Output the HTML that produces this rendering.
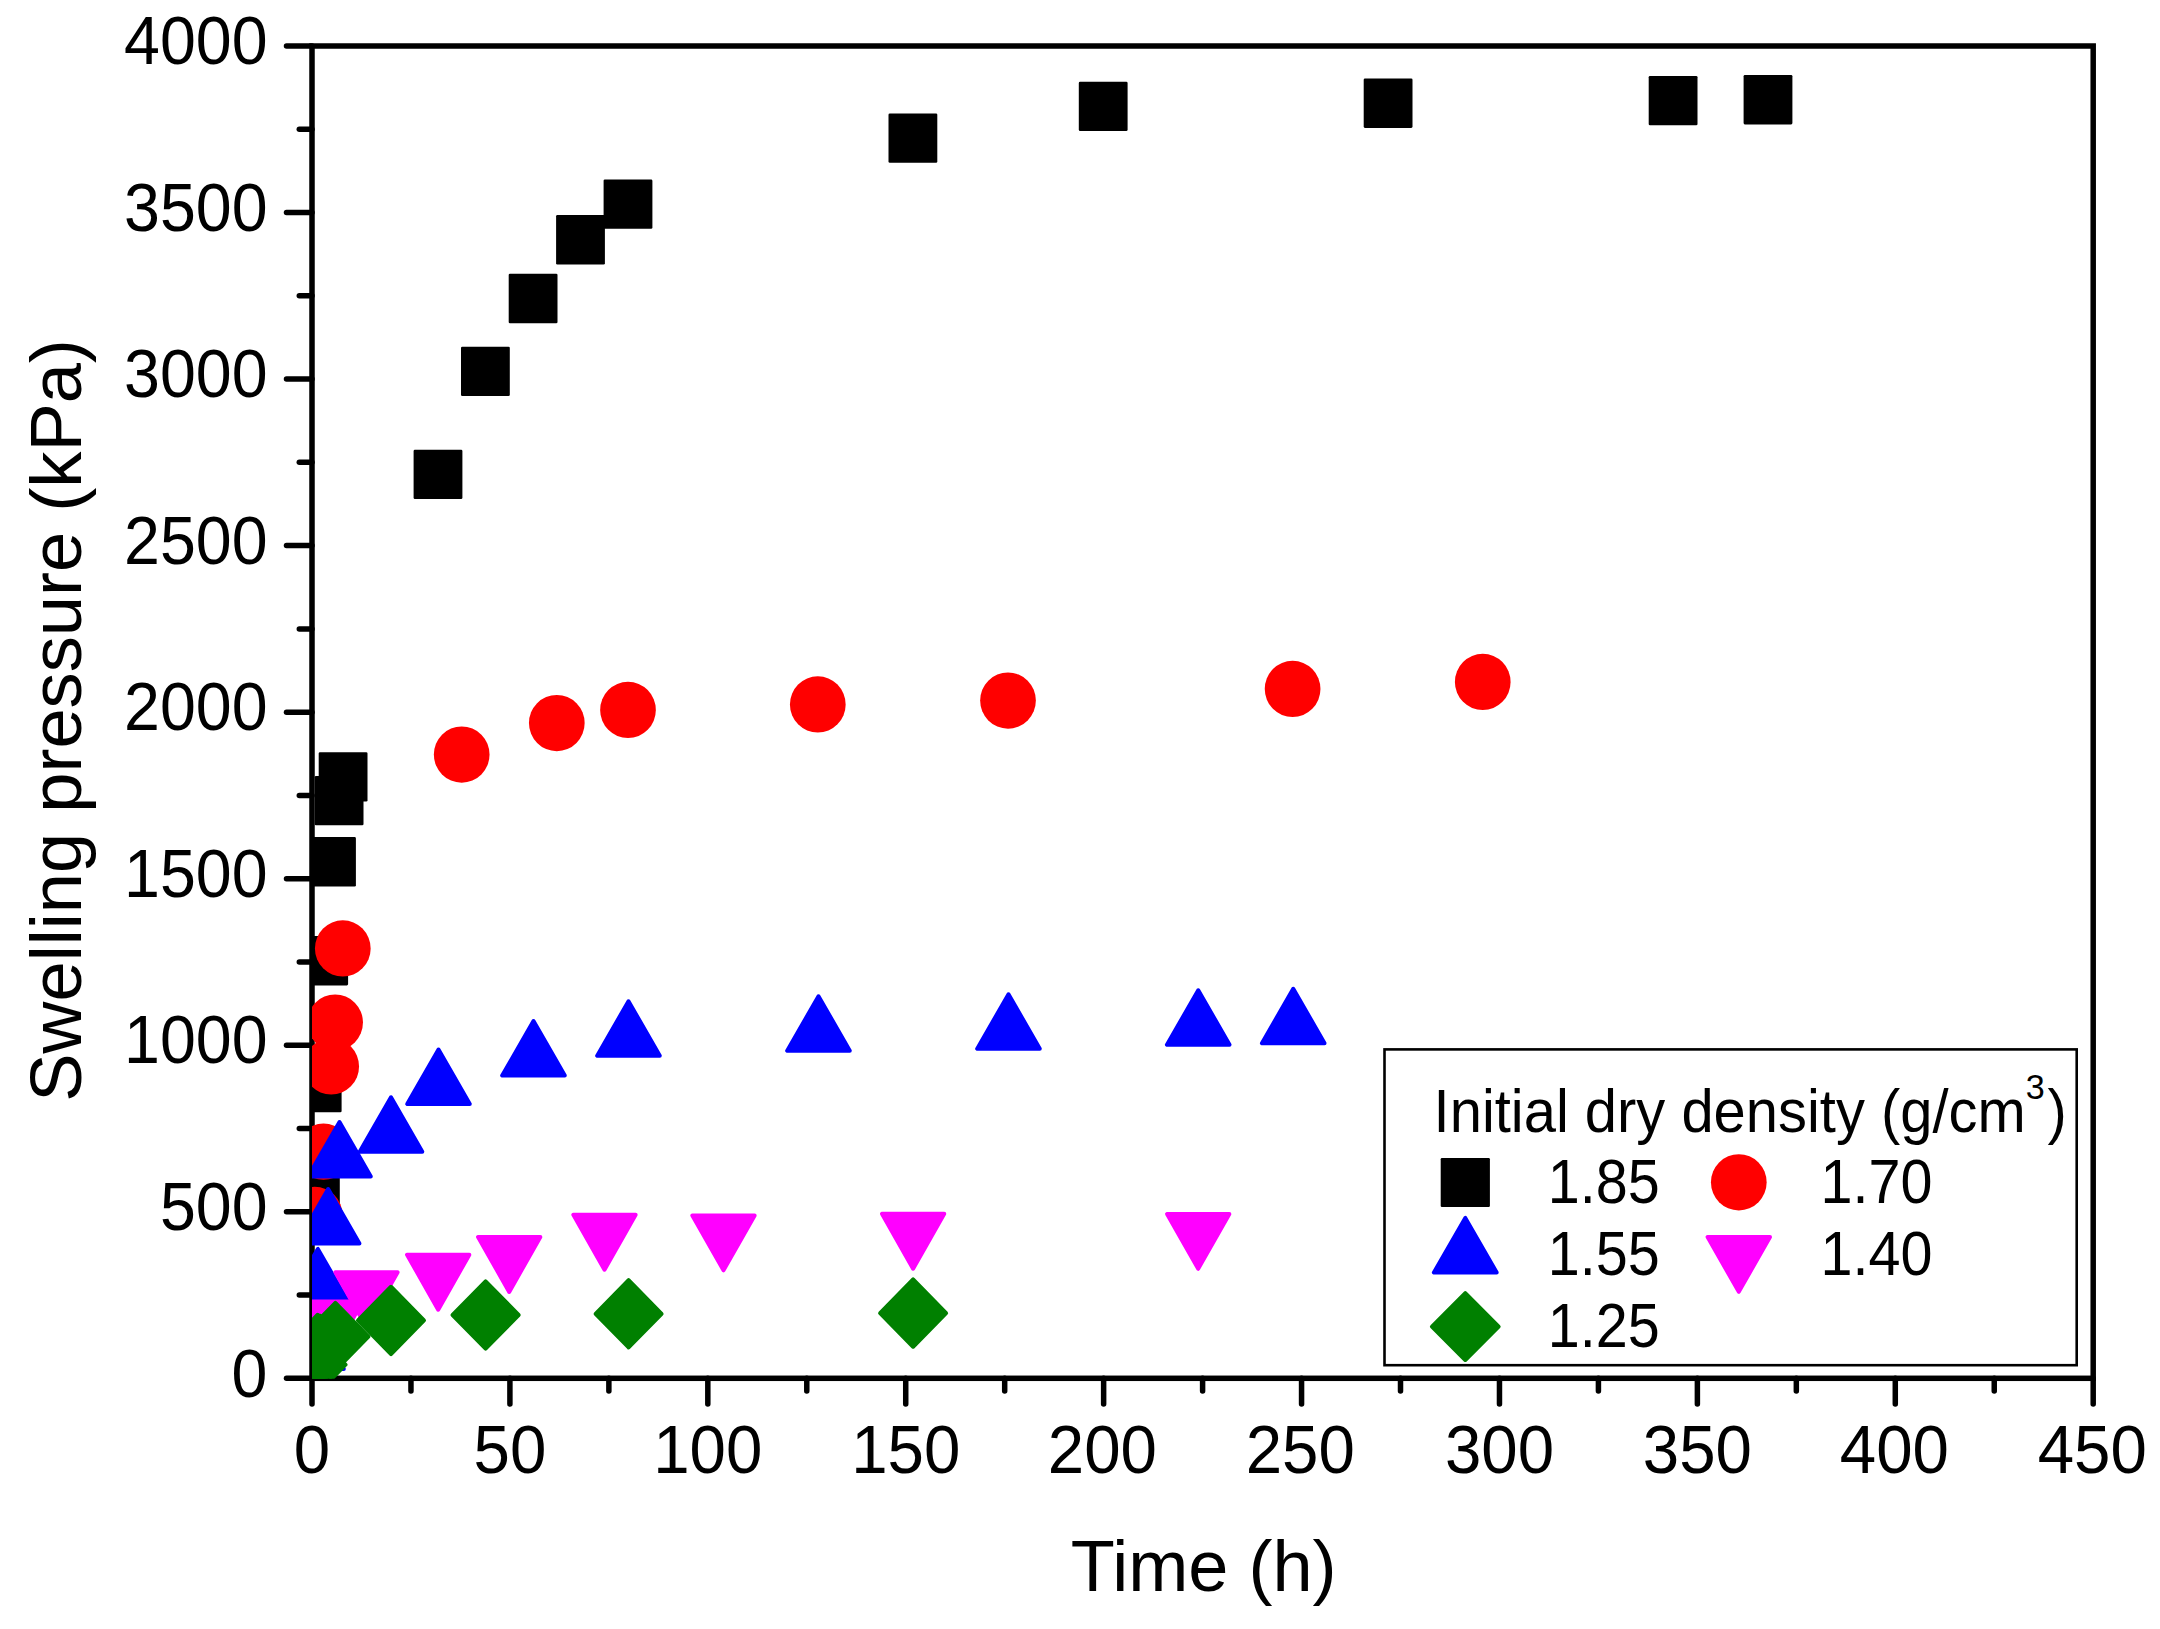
<!DOCTYPE html>
<html lang="en"><head><meta charset="utf-8"><title>Swelling pressure vs time</title>
<style>html,body{margin:0;padding:0;background:#fff}svg{display:block}text{font-family:"Liberation Sans",Arial,Helvetica,sans-serif;fill:#000}</style></head><body>
<svg width="2160" height="1629" viewBox="0 0 2160 1629">
<rect x="0" y="0" width="2160" height="1629" fill="#fff"/>
<defs><clipPath id="plot"><rect x="312.00" y="46.00" width="1784.20" height="1332.80"/></clipPath></defs>
<g stroke="#000" stroke-width="5.50" fill="none" stroke-linecap="round">
<rect x="312.00" y="46.00" width="1781.20" height="1332.30" stroke-linejoin="miter"/>
<line x1="312.00" y1="1378.30" x2="286.50" y2="1378.30"/>
<line x1="312.00" y1="1295.03" x2="299.30" y2="1295.03"/>
<line x1="312.00" y1="1211.76" x2="286.50" y2="1211.76"/>
<line x1="312.00" y1="1128.49" x2="299.30" y2="1128.49"/>
<line x1="312.00" y1="1045.22" x2="286.50" y2="1045.22"/>
<line x1="312.00" y1="961.96" x2="299.30" y2="961.96"/>
<line x1="312.00" y1="878.69" x2="286.50" y2="878.69"/>
<line x1="312.00" y1="795.42" x2="299.30" y2="795.42"/>
<line x1="312.00" y1="712.15" x2="286.50" y2="712.15"/>
<line x1="312.00" y1="628.88" x2="299.30" y2="628.88"/>
<line x1="312.00" y1="545.61" x2="286.50" y2="545.61"/>
<line x1="312.00" y1="462.34" x2="299.30" y2="462.34"/>
<line x1="312.00" y1="379.08" x2="286.50" y2="379.08"/>
<line x1="312.00" y1="295.81" x2="299.30" y2="295.81"/>
<line x1="312.00" y1="212.54" x2="286.50" y2="212.54"/>
<line x1="312.00" y1="129.27" x2="299.30" y2="129.27"/>
<line x1="312.00" y1="46.00" x2="286.50" y2="46.00"/>
<line x1="312.00" y1="1378.30" x2="312.00" y2="1404.00"/>
<line x1="410.96" y1="1378.30" x2="410.96" y2="1391.00"/>
<line x1="509.91" y1="1378.30" x2="509.91" y2="1404.00"/>
<line x1="608.87" y1="1378.30" x2="608.87" y2="1391.00"/>
<line x1="707.82" y1="1378.30" x2="707.82" y2="1404.00"/>
<line x1="806.78" y1="1378.30" x2="806.78" y2="1391.00"/>
<line x1="905.73" y1="1378.30" x2="905.73" y2="1404.00"/>
<line x1="1004.69" y1="1378.30" x2="1004.69" y2="1391.00"/>
<line x1="1103.64" y1="1378.30" x2="1103.64" y2="1404.00"/>
<line x1="1202.60" y1="1378.30" x2="1202.60" y2="1391.00"/>
<line x1="1301.56" y1="1378.30" x2="1301.56" y2="1404.00"/>
<line x1="1400.51" y1="1378.30" x2="1400.51" y2="1391.00"/>
<line x1="1499.47" y1="1378.30" x2="1499.47" y2="1404.00"/>
<line x1="1598.42" y1="1378.30" x2="1598.42" y2="1391.00"/>
<line x1="1697.38" y1="1378.30" x2="1697.38" y2="1404.00"/>
<line x1="1796.33" y1="1378.30" x2="1796.33" y2="1391.00"/>
<line x1="1895.29" y1="1378.30" x2="1895.29" y2="1404.00"/>
<line x1="1994.24" y1="1378.30" x2="1994.24" y2="1391.00"/>
<line x1="2093.20" y1="1378.30" x2="2093.20" y2="1404.00"/>
</g>
<g font-size="67.7">
<text transform="translate(267.5,1396.50) scale(0.9525,1)" text-anchor="end">0</text>
<text transform="translate(267.5,1229.96) scale(0.9525,1)" text-anchor="end">500</text>
<text transform="translate(267.5,1063.42) scale(0.9525,1)" text-anchor="end">1000</text>
<text transform="translate(267.5,896.89) scale(0.9525,1)" text-anchor="end">1500</text>
<text transform="translate(267.5,730.35) scale(0.9525,1)" text-anchor="end">2000</text>
<text transform="translate(267.5,563.81) scale(0.9525,1)" text-anchor="end">2500</text>
<text transform="translate(267.5,397.28) scale(0.9525,1)" text-anchor="end">3000</text>
<text transform="translate(267.5,230.74) scale(0.9525,1)" text-anchor="end">3500</text>
<text transform="translate(267.5,64.20) scale(0.9525,1)" text-anchor="end">4000</text>
<text transform="translate(312.00,1473) scale(0.9666,1)" text-anchor="middle">0</text>
<text transform="translate(509.91,1473) scale(0.9666,1)" text-anchor="middle">50</text>
<text transform="translate(707.82,1473) scale(0.9666,1)" text-anchor="middle">100</text>
<text transform="translate(905.73,1473) scale(0.9666,1)" text-anchor="middle">150</text>
<text transform="translate(1102.34,1473) scale(0.9666,1)" text-anchor="middle">200</text>
<text transform="translate(1300.26,1473) scale(0.9666,1)" text-anchor="middle">250</text>
<text transform="translate(1499.47,1473) scale(0.9666,1)" text-anchor="middle">300</text>
<text transform="translate(1697.38,1473) scale(0.9666,1)" text-anchor="middle">350</text>
<text transform="translate(1894.39,1473) scale(0.9666,1)" text-anchor="middle">400</text>
<text transform="translate(2092.30,1473) scale(0.9666,1)" text-anchor="middle">450</text>
</g>
<text transform="translate(1203.7,1590.7) scale(0.988,1)" font-size="73" text-anchor="middle">Time (h)</text>
<text transform="translate(81.2,720.5) rotate(-90) scale(0.9896,1)" font-size="73" text-anchor="middle">Swelling pressure (kPa)</text>
<g clip-path="url(#plot)" stroke-width="4.0" stroke-linejoin="round">
<g fill="#000" stroke="none"><rect x="291.00" y="1167.30" width="48.80" height="49.40" rx="1.3"/><rect x="292.80" y="1062.80" width="48.80" height="49.40" rx="1.3"/><rect x="299.30" y="936.00" width="48.80" height="49.40" rx="1.3"/><rect x="307.10" y="837.10" width="48.80" height="49.40" rx="1.3"/><rect x="314.70" y="775.90" width="48.80" height="49.40" rx="1.3"/><rect x="318.70" y="752.20" width="48.80" height="49.40" rx="1.3"/><rect x="413.60" y="449.70" width="48.80" height="49.40" rx="1.3"/><rect x="461.00" y="346.70" width="48.80" height="49.40" rx="1.3"/><rect x="508.70" y="273.80" width="48.80" height="49.40" rx="1.3"/><rect x="556.10" y="215.05" width="48.80" height="49.40" rx="1.3"/><rect x="603.60" y="179.40" width="48.80" height="49.40" rx="1.3"/><rect x="888.50" y="113.40" width="48.80" height="49.40" rx="1.3"/><rect x="1078.80" y="81.70" width="48.80" height="49.40" rx="1.3"/><rect x="1363.70" y="78.50" width="48.80" height="49.40" rx="1.3"/><rect x="1648.70" y="75.90" width="48.80" height="49.40" rx="1.3"/><rect x="1743.60" y="75.00" width="48.80" height="49.40" rx="1.3"/></g>
<g fill="#f00" stroke="none"><ellipse cx="314.70" cy="1215.00" rx="27.85" ry="28.15"/><ellipse cx="323.50" cy="1151.70" rx="27.85" ry="28.15"/><ellipse cx="331.20" cy="1066.40" rx="27.85" ry="28.15"/><ellipse cx="335.10" cy="1022.60" rx="27.85" ry="28.15"/><ellipse cx="342.80" cy="948.40" rx="27.85" ry="28.15"/><ellipse cx="461.70" cy="754.60" rx="27.85" ry="28.15"/><ellipse cx="556.80" cy="723.10" rx="27.85" ry="28.15"/><ellipse cx="628.00" cy="709.90" rx="27.85" ry="28.15"/><ellipse cx="817.80" cy="704.40" rx="27.85" ry="28.15"/><ellipse cx="1008.00" cy="700.60" rx="27.85" ry="28.15"/><ellipse cx="1292.60" cy="688.90" rx="27.85" ry="28.15"/><ellipse cx="1482.75" cy="681.90" rx="27.85" ry="28.15"/></g>
<g fill="#00f" stroke="#00f"><polygon points="312.50,1314.60 281.20,1369.10 343.80,1369.10"/><polygon points="317.85,1248.90 286.55,1303.40 349.15,1303.40"/><polygon points="328.15,1189.10 296.85,1243.60 359.45,1243.60"/><polygon points="339.50,1122.00 308.20,1176.50 370.80,1176.50"/><polygon points="391.00,1097.25 359.70,1151.75 422.30,1151.75"/><polygon points="438.50,1049.50 407.20,1104.00 469.80,1104.00"/><polygon points="533.50,1021.00 502.20,1075.50 564.80,1075.50"/><polygon points="628.50,1001.25 597.20,1055.75 659.80,1055.75"/><polygon points="818.50,996.25 787.20,1050.75 849.80,1050.75"/><polygon points="1008.50,994.25 977.20,1048.75 1039.80,1048.75"/><polygon points="1198.25,990.25 1166.95,1044.75 1229.55,1044.75"/><polygon points="1293.25,988.75 1261.95,1043.25 1324.55,1043.25"/></g>
<g fill="#f0f" stroke="#f0f"><polygon points="300.35,1301.40 362.65,1301.40 331.50,1356.30"/><polygon points="335.35,1272.30 397.65,1272.30 366.50,1327.20"/><polygon points="407.05,1254.75 469.35,1254.75 438.20,1309.65"/><polygon points="478.05,1237.00 540.35,1237.00 509.20,1291.90"/><polygon points="573.35,1214.80 635.65,1214.80 604.50,1269.70"/><polygon points="692.35,1215.40 754.65,1215.40 723.50,1270.30"/><polygon points="881.95,1213.80 944.25,1213.80 913.10,1268.70"/><polygon points="1167.05,1213.90 1229.35,1213.90 1198.20,1268.80"/></g>
<g fill="#008000" stroke="#008000"><polygon points="312.50,1331.05 345.50,1364.70 312.50,1398.35 279.50,1364.70"/><polygon points="317.70,1314.75 350.70,1348.40 317.70,1382.05 284.70,1348.40"/><polygon points="320.40,1315.95 353.40,1349.60 320.40,1383.25 287.40,1349.60"/><polygon points="335.40,1302.95 368.40,1336.60 335.40,1370.25 302.40,1336.60"/><polygon points="391.00,1286.75 424.00,1320.40 391.00,1354.05 358.00,1320.40"/><polygon points="485.60,1281.35 518.60,1315.00 485.60,1348.65 452.60,1315.00"/><polygon points="628.60,1280.15 661.60,1313.80 628.60,1347.45 595.60,1313.80"/><polygon points="913.10,1279.45 946.10,1313.10 913.10,1346.75 880.10,1313.10"/></g>
</g>
<rect x="1384.5" y="1049.4" width="692.2" height="315.8" fill="#fff" stroke="#000" stroke-width="2.6"/>
<g stroke-width="4.0" stroke-linejoin="round">
<g fill="#000"><rect x="1440.70" y="1157.90" width="49.20" height="49.20" rx="1.3"/></g>
<g fill="#f00"><ellipse cx="1738.80" cy="1182.30" rx="27.85" ry="28.15"/></g>
<g fill="#00f" stroke="#00f"><polygon points="1465.30,1217.90 1433.90,1272.50 1496.70,1272.50"/></g>
<g fill="#f0f" stroke="#f0f"><polygon points="1707.60,1237.00 1770.00,1237.00 1738.80,1291.80"/></g>
<g fill="#008000" stroke="#008000"><polygon points="1465.30,1293.20 1498.65,1326.60 1465.30,1360.00 1431.95,1326.60"/></g>
</g>
<g font-size="62.8">
<text font-size="61" transform="translate(1433.6,1132.2) scale(0.9493,1)">Initial dry density (g/cm<tspan font-size="36" dy="-33.6" dx="0">3</tspan><tspan dy="33.6" dx="3">)</tspan></text>
<text transform="translate(1547.70,1202.90) scale(0.916,1)">1.85</text>
<text transform="translate(1820.60,1202.90) scale(0.916,1)">1.70</text>
<text transform="translate(1547.70,1274.60) scale(0.916,1)">1.55</text>
<text transform="translate(1820.60,1274.60) scale(0.916,1)">1.40</text>
<text transform="translate(1547.70,1346.80) scale(0.916,1)">1.25</text>
</g>
</svg></body></html>
